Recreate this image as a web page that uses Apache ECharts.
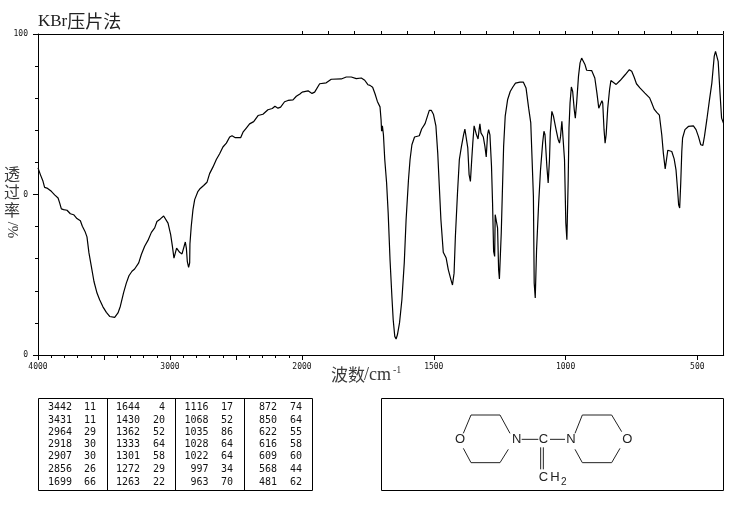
<!DOCTYPE html>
<html><head><meta charset="utf-8">
<style>html,body{margin:0;padding:0;background:#fff}#c{width:737px;height:510px}</style>
<script src="https://cdn.jsdelivr.net/npm/echarts@6/dist/echarts.min.js"></script>
</head><body><div id="c"></div>
<script>
const waveNumbers = [4000,3982,3962,3950,3932,3917,3899,3874,3848,3836,3823,3806,3780,3755,3730,3705,3679,3664,3644,3629,3614,3596,3576,3553,3533,3508,3482,3457,3444,3419,3394,3376,3351,3331,3311,3288,3268,3237,3217,3192,3167,3141,3116,3099,3073,3048,3035,3015,2995,2982,2970,2960,2950,2942,2927,2909,2897,2884,2876,2869,2859,2851,2849,2839,2826,2813,2788,2775,2760,2745,2720,2700,2674,2649,2624,2599,2573,2548,2530,2505,2465,2447,2422,2397,2366,2333,2296,2258,2225,2205,2182,2162,2132,2106,2068,2043,2013,2000,
1994,1977,1962,1952,1933,1908,1889,1851,1832,1813,1794,1775,1762,1750,1742,1732,1723,1714,1704,1700,1698,1695,1691,1686,1679,1673,1666,1659,1654,1648,1643,1638,1630,1621,1612,1605,1596,1590,1583,1573,1555,1546,1533,1524,1517,1509,1501,1492,1485,1479,1473,1464,1453,1445,1435,1429,1423,1418,1410,1403,1395,1387,1382,1377,1371,1366,1361,1356,1352,1347,1343,1338,1332,1328,1325,1321,1312,1306,1301,1296,1292,1287,1281,1277,1273,1269,1267,1261,1258,1254,1251,1244,1235,1229,1220,1210,1200,1190,1173,1160,1150,1140,1132,1127,1122,1119,1115,1110,1102,1095,1087,1082,1078,1071,1066,1061,1058,1052,1046,1036,1028,1023,1019,1014,1011,1004,999,995,990,987,983,978,973,967,963,958,951,945,939,933,926,920,901,889,881,874,869,862,859,854,850,846,840,833,828,821,808,793,774,758,749,740,731,718,699,681,673,664,654,644,635,629,622,617,612,606,597,588,581,575,571,567,563,559,556,547,534,515,505,496,487,479,473,464,454,445,436,431,426,421,414,408,401];
const transmittance = [58.3,56.2,54.1,52.2,52.0,52.3,51.0,49.9,48.9,47.4,45.5,45.3,45.1,44.0,43.7,42.5,41.8,40.1,38.5,36.8,31.8,27.6,22.9,19.3,17.2,15.0,13.3,12.0,11.7,11.7,13.1,15.2,19.5,22.4,24.7,26.1,26.8,28.7,31.3,33.9,35.7,38.2,39.6,41.6,42.4,43.3,43.2,41.1,37.5,33.9,30.2,30.7,33.3,33.6,32.0,31.5,32.0,35.2,33.3,29.2,27.3,28.7,34.6,40.1,45.3,48.4,51.0,51.7,51.7,52.8,53.8,56.5,58.6,60.9,62.7,64.8,66.0,67.9,68.3,67.7,67.7,69.4,70.7,72.0,72.7,74.6,75.0,76.4,76.8,77.5,76.9,77.2,78.9,79.3,79.5,80.6,81.4,81.9,
82.2,82.3,81.5,81.9,84.5,84.8,85.9,86.0,86.6,86.6,86.1,86.3,85.6,84.2,84.0,83.4,81.4,79.0,77.3,73.3,69.7,71.4,68.6,60.9,53.6,44.2,29.7,18.3,11.0,5.8,5.0,6.3,10.0,17.2,28.7,42.2,54.6,60.9,65.5,67.9,68.3,70.4,72.1,74.4,76.2,76.2,74.9,71.4,62.9,52.5,42.2,32.0,30.2,26.6,23.5,21.8,25.5,37.0,50.5,60.9,65.0,68.6,70.4,70.4,64.5,56.2,54.1,60.9,66.0,71.4,71.4,68.6,67.3,70.2,72.0,69.2,67.9,65.0,61.7,68.6,70.2,68.6,58.8,47.4,32.3,30.7,43.7,43.7,39.6,26.6,23.7,38.0,65.0,74.4,79.5,82.1,83.5,84.7,85.0,85.0,83.2,76.9,72.3,60.9,49.4,22.4,17.8,32.8,47.4,57.7,66.0,69.7,68.6,58.8,53.6,60.9,69.2,75.9,74.4,70.2,67.1,66.0,68.1,72.8,72.3,60.9,41.1,35.9,54.6,70.7,78.5,83.5,82.1,76.4,73.8,78.5,86.8,91.0,92.5,92.5,90.4,88.7,88.6,86.3,81.6,76.9,77.5,79.2,78.5,70.2,66.0,68.6,76.9,82.7,85.5,85.3,84.3,85.5,87.3,88.9,88.4,86.6,84.5,83.2,81.6,80.1,78.5,76.6,75.6,74.7,68.6,62.9,58.0,60.9,63.8,64.3,63.4,61.1,57.7,51.5,46.8,45.8,53.6,63.4,67.6,70.2,71.2,71.4,70.2,68.1,65.5,65.3,68.1,73.3,79.5,84.7,93.0,94.6,94.9,91.5,81.6,73.8,72.3];
const xLabelsLeft = [4000,3000,2000];
const xLabelsRight = [1500,1000,500];
const yLabels = [100,50,0];
const titleLatin = 'KBr', titleCjk = '压片法';
const yNameChars = ['透','过','率'], yNameUnit = '/%';
const xNameCjk = '波数', xNameUnit = '/cm', xNameSup = '-1';
const peakWave1 = ['3442','3431','2964','2918','2907','2856','1699'];
const peakT1 = ['11','11','29','30','30','26','66'];
const peakWave2 = ['1644','1430','1362','1333','1301','1272','1263'];
const peakT2 = ['4','20','52','64','58','29','22'];
const peakWave3 = ['1116','1068','1035','1028','1022','997','963'];
const peakT3 = ['17','52','86','64','64','34','70'];
const peakWave4 = ['872','850','622','616','609','568','481'];
const peakT4 = ['74','64','55','58','60','44','62'];

const lineL = waveNumbers.map((w,i)=>[w,transmittance[i]]).filter(p=>p[0]>=2000);
const lineR = waveNumbers.map((w,i)=>[w,transmittance[i]]).filter(p=>p[0]<=2000);

const CJK = '"Noto Sans CJK SC"', GREY = '#3a3a3a';
const tickFont = {fontFamily:'"DejaVu Sans Mono"',fontSize:8,color:'#111'};
const g = [];
function txt(x,y,text,opt){
  g.push({type:'text',x,y,z:50,silent:true,style:Object.assign({text,fill:GREY,align:'center',verticalAlign:'middle'},opt)});
}
// frame of the plot
g.push({type:'rect',z:40,silent:true,shape:{x:38.5,y:34.5,width:685,height:321},style:{fill:'none',stroke:'#000',lineWidth:1}});
// y name: the axis name covers most of the "5" of the middle tick label in the reference
g.push({type:'rect',z:45,silent:true,shape:{x:17,y:189,width:6,height:10},style:{fill:'#fff'}});
const yNameY=[174,192,210];
yNameChars.forEach((c,i)=>txt(12,yNameY[i],c,{font:'16px '+CJK}));
g.push({type:'text',x:12,y:230,rotation:-Math.PI/2,z:50,silent:true,style:{text:yNameUnit,font:'15px "Liberation Serif"',fill:GREY,align:'center',verticalAlign:'middle'}});
// x name
txt(331,374.5,xNameCjk,{font:'17px '+CJK,align:'left'});
txt(364,375,xNameUnit,{font:'18px "Liberation Serif"',align:'left'});
txt(393,370.5,xNameSup,{font:'10px "Liberation Serif"',align:'left'});
// peak table
g.push({type:'rect',z:40,silent:true,shape:{x:38.5,y:398.5,width:274,height:92},style:{fill:'none',stroke:'#000',lineWidth:1}});
[107.5,175.5,244.5].forEach(x=>g.push({type:'line',z:40,silent:true,shape:{x1:x,y1:398.5,x2:x,y2:490.5},style:{stroke:'#000',lineWidth:1}}));
const tableFont='10px "DejaVu Sans Mono"';
const rowY=[407.3,420,432.7,444.7,456.7,469.3,482];
[[peakWave1,peakT1,72,96],[peakWave2,peakT2,140,165],[peakWave3,peakT3,208.5,233],[peakWave4,peakT4,277,302]].forEach(([w,t,xw,xt])=>{
  w.forEach((v,i)=>{
    txt(xw,rowY[i],v,{font:tableFont,fill:'#111',align:'right'});
    txt(xt,rowY[i],t[i],{font:tableFont,fill:'#111',align:'right'});
  });
});
// structure panel
g.push({type:'rect',z:40,silent:true,shape:{x:381.5,y:398.5,width:342,height:92},style:{fill:'none',stroke:'#000',lineWidth:1}});
const zx=v=>375+v/3, zy=v=>390+v/3;
[[[265,130],[288,75],[375,75],[405,130]],[[265,175],[288,218],[375,218],[400,178]],
 [[600,130],[622,75],[710,75],[740,125]],[[600,178],[622,218],[710,218],[735,175]],
 [[440,148],[490,148]],[[525,148],[570,148]],[[497,172],[497,238]],[[505,172],[505,238]]].forEach(b=>{
  g.push({type:'polyline',z:40,silent:true,shape:{points:b.map(p=>[zx(p[0]),zy(p[1])])},style:{fill:'none',stroke:'#222',lineWidth:1}});
});
const atomFont='13px "Liberation Sans"';
[['O',255,148],['N',425,148],['C',505,148],['N',588,148],['O',757,148],['C',505,262],['H',540,262]].forEach(a=>{
  txt(zx(a[1]),zy(a[2]),a[0],{font:atomFont,fill:'#222'});
});
txt(zx(566),zy(276),'2',{font:'10px "Liberation Sans"',fill:'#222'});

const chart = echarts.init(document.getElementById('c'),null,{renderer:'canvas'});
const hideAxis={show:false};
chart.setOption({
  animation:false,
  backgroundColor:'#fff',
  title:{left:38,top:12.5,padding:0,text:'{a|'+titleLatin+'}{b|'+titleCjk+'}',
    textStyle:{rich:{a:{fontFamily:'"Liberation Serif"',fontSize:17,fontWeight:'normal',color:'#222'},
                     b:{fontFamily:CJK,fontSize:18,fontWeight:'normal',color:'#222'}}}},
  grid:[{left:38,top:34,width:264,height:321,containLabel:false},
        {left:302,top:34,width:421.7,height:321,containLabel:false}],
  xAxis:[
    {type:'value',gridIndex:0,inverse:true,min:2000,max:4000,interval:500,splitLine:hideAxis,
     axisLine:{show:true,lineStyle:{color:'#000'}},
     axisTick:{show:true,length:5,inside:false,lineStyle:{color:'#000'}},
     minorTick:{show:true,splitNumber:5,length:3,lineStyle:{color:'#000'}},minorSplitLine:hideAxis,
     axisLabel:Object.assign({show:true,margin:8,customValues:xLabelsLeft,formatter:v=>String(v),hideOverlap:false},tickFont)},
    {type:'value',gridIndex:1,inverse:true,min:400,max:2000,splitLine:hideAxis,
     axisLine:{show:true,lineStyle:{color:'#000'}},
     axisTick:{show:true,length:5,customValues:[1500,1000,500],lineStyle:{color:'#000'}},
     axisLabel:Object.assign({show:true,margin:8,customValues:xLabelsRight,formatter:v=>String(v)},tickFont)},
    {type:'value',gridIndex:1,inverse:true,min:400,max:2000,interval:100,splitLine:hideAxis,
     axisLine:{show:false},axisLabel:{show:false},
     axisTick:{show:true,length:3,lineStyle:{color:'#000'}}}
  ],
  yAxis:[
    {type:'value',gridIndex:0,min:0,max:100,interval:50,splitLine:hideAxis,
     axisLine:{show:true,lineStyle:{color:'#000'}},
     axisTick:{show:true,length:5,lineStyle:{color:'#000'}},
     minorTick:{show:true,splitNumber:5,length:3,lineStyle:{color:'#000'}},minorSplitLine:hideAxis,
     axisLabel:Object.assign({show:true,margin:10,customValues:yLabels,formatter:v=>String(v)},tickFont)},
    {type:'value',gridIndex:1,min:0,max:100,show:false,splitLine:hideAxis}
  ],
  series:[
    {type:'line',name:'left',xAxisIndex:0,yAxisIndex:0,data:lineL,showSymbol:false,symbol:'none',smooth:false,clip:true,lineStyle:{color:'#000',width:1.2},silent:true},
    {type:'line',name:'right',xAxisIndex:1,yAxisIndex:1,data:lineR,showSymbol:false,symbol:'none',smooth:false,clip:true,lineStyle:{color:'#000',width:1.2},silent:true}
  ],
  graphic:{elements:g}
});
</script></body></html>
